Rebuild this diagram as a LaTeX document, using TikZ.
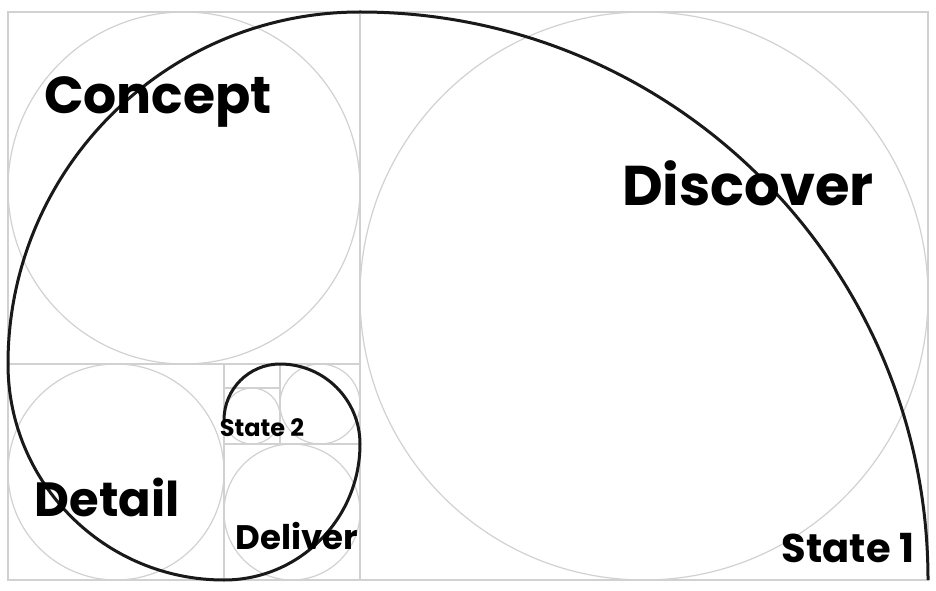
\documentclass[tikz,border=0pt]{standalone}
\usepackage{fontspec}
\setmainfont{Poppins}
\begin{document}
\begin{tikzpicture}[x=1pt,y=1pt,
  guide/.style={draw=black!18,line width=1.2pt},
  spiral/.style={draw=black!90,line width=3pt},
  lbl/.style={inner sep=0pt,text=black}]
\useasboundingbox[fill=white] (0,0) rectangle (936,590);
% guide rectangles
\draw[guide] (8,10) rectangle (928,578);
\draw[guide] (360,10) -- (360,578);
\draw[guide] (8,226) -- (360,226);
\draw[guide] (224,10) -- (224,226);
\draw[guide] (224,146) -- (360,146);
\draw[guide] (280,146) -- (280,226);
\draw[guide] (224,202) -- (280,202);
% inscribed circles
\draw[guide] (644,294) circle (284);
\draw[guide] (184,402) circle (176);
\draw[guide] (116,118) circle (108);
\draw[guide] (292,78) circle (68);
\draw[guide] (320,186) circle (40);
\draw[guide] (252,174) circle (28);
% spiral
\coordinate (s1) at (928,10);
\draw[spiral] (s1) arc (0:90:568) arc (90:180:352) arc (180:270:216)
  arc (270:360:136) arc (0:90:80) arc (90:180:56);
% labels
\node[lbl,font=\fontsize{52}{52}\selectfont\bfseries] (concept) at (158,488) {Concept};
\node[lbl,font=\fontsize{56}{56}\selectfont\bfseries] (discover) at (748,407) {Discover};
\node[lbl,font=\fontsize{48}{48}\selectfont\bfseries] (detail) at (107,93) {Detail};
\node[lbl,font=\fontsize{34}{34}\selectfont\bfseries] (deliver) at (297,54) {Deliver};
\node[lbl,font=\fontsize{40}{40}\selectfont\bfseries] (state1) at (848,42) {State 1};
\node[lbl,font=\fontsize{24}{24}\selectfont\bfseries] (state2) at (262,162) {State 2};
\end{tikzpicture}
\end{document}
